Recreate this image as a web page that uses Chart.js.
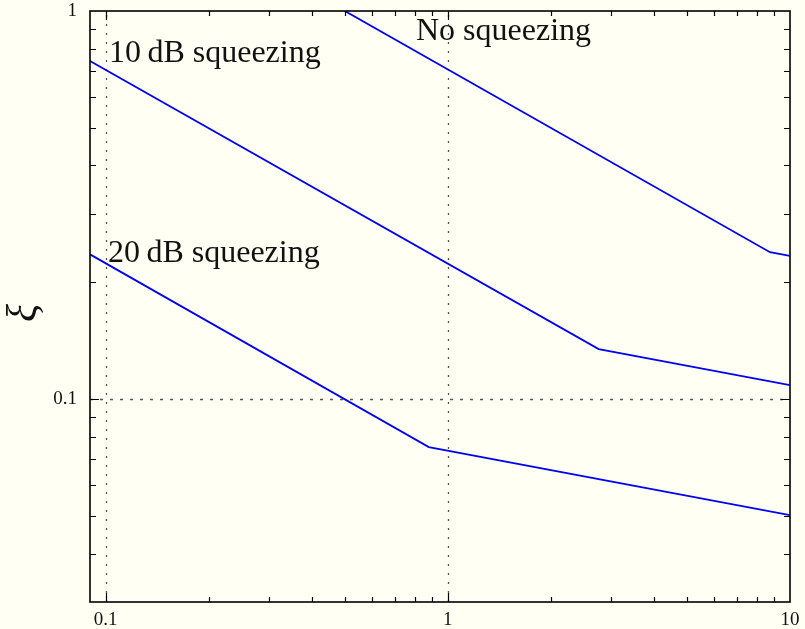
<!DOCTYPE html>
<html><head><meta charset="utf-8">
<script src="https://cdn.jsdelivr.net/npm/chart.js@4"></script>
<style>html,body{margin:0;padding:0;background:#fffff4;}canvas{display:block;}</style>
</head><body>
<canvas id="c" width="805" height="629"></canvas>
<script>
// ---- data ----
const xNoSqueeze = [0.5, 8.74, 10];
const yNoSqueeze = [1.0, 0.239, 0.234];
const x10dB = [0.09, 2.76, 10];
const y10dB = [0.743, 0.1345, 0.1086];
const x20dB = [0.09, 0.880, 10];
const y20dB = [0.236, 0.0752, 0.0502];
const seriesLabels = ['No squeezing', '10\u2009dB squeezing', '20\u2009dB squeezing'];
const xTickLabels = [0.1, 1, 10];
const yTickLabels = [0.1, 1];
const xRange = [0.09, 10];
const yRange = [0.03, 1];
const yTitle = '\u03BE';

const toPts = (xs, ys) => xs.map((x, i) => ({x: x, y: ys[i]}));
const SERIF = "'Liberation Serif', 'DejaVu Serif', serif";
const BLUE = '#0000f0';

const isMajor = v => Math.abs(Math.log10(v) - Math.round(Math.log10(v))) < 1e-9;
const logValues = (lo, hi) => {
  const out = [];
  for (let e = Math.floor(Math.log10(lo)); e <= Math.ceil(Math.log10(hi)); e++) {
    for (let m = 1; m <= 9; m++) {
      const v = +(m * Math.pow(10, e)).toPrecision(6);
      if (v > lo * 1.0001 && v < hi * 0.9999) out.push(v);
    }
  }
  return out;
};

const framePlugin = {
  id: 'frame',
  beforeDatasetsDraw(chart) {
    const {ctx, chartArea: a, scales: {x, y}} = chart;
    ctx.save();
    ctx.strokeStyle = '#555';
    ctx.lineWidth = 1.3;
    ctx.setLineDash([2, 7]);
    xTickLabels.forEach(v => {
      const px = Math.round(x.getPixelForValue(v)) + 0.5;
      if (px > a.left + 2 && px < a.right - 2) {
        ctx.beginPath(); ctx.moveTo(px, a.bottom); ctx.lineTo(px, a.top); ctx.stroke();
      }
    });
    ctx.setLineDash([3, 7]);
    yTickLabels.forEach(v => {
      const py = Math.round(y.getPixelForValue(v)) + 0.5;
      if (py > a.top + 2 && py < a.bottom - 2) {
        ctx.beginPath(); ctx.moveTo(a.left, py); ctx.lineTo(a.right, py); ctx.stroke();
      }
    });
    ctx.restore();
  },
  afterDatasetsDraw(chart) {
    const {ctx, chartArea: a, scales: {x, y}} = chart;
    ctx.save();
    ctx.strokeStyle = '#000';
    ctx.lineWidth = 1.2;
    logValues(xRange[0], xRange[1]).forEach(v => {
      const px = Math.round(x.getPixelForValue(v)) + 0.5;
      const len = isMajor(v) ? 9 : 5;
      ctx.beginPath();
      ctx.moveTo(px, a.bottom); ctx.lineTo(px, a.bottom - len);
      ctx.moveTo(px, a.top); ctx.lineTo(px, a.top + len);
      ctx.stroke();
    });
    logValues(yRange[0], yRange[1]).forEach(v => {
      const py = Math.round(y.getPixelForValue(v)) + 0.5;
      const len = isMajor(v) ? 9 : 6;
      ctx.beginPath();
      ctx.moveTo(a.left, py); ctx.lineTo(a.left + len, py);
      ctx.moveTo(a.right, py); ctx.lineTo(a.right - len, py);
      ctx.stroke();
    });
    ctx.lineWidth = 1.6;
    ctx.strokeRect(a.left, a.top, a.right - a.left, a.bottom - a.top);

    // series annotations
    ctx.fillStyle = '#111';
    ctx.font = '32px ' + SERIF;
    ctx.textBaseline = 'alphabetic';
    ctx.textAlign = 'left';
    ctx.fillText(seriesLabels[0], 416, 40);
    ctx.fillText(seriesLabels[1], 109, 62);
    ctx.fillText(seriesLabels[2], 108, 262);

    // y axis title
    ctx.save();
    ctx.translate(36, 313);
    ctx.rotate(-Math.PI / 2);
    ctx.font = 'italic 42px ' + SERIF;
    ctx.textAlign = 'center';
    ctx.fillText(yTitle, 0, 0);
    ctx.restore();
    ctx.restore();
  }
};

const lineDs = (label, xs, ys) => ({
  label, data: toPts(xs, ys), showLine: true, borderColor: BLUE, backgroundColor: BLUE,
  borderWidth: 1.8, pointRadius: 0, tension: 0, fill: false
});

new Chart(document.getElementById('c'), {
  type: 'scatter',
  data: {
    datasets: [
      lineDs(seriesLabels[0], xNoSqueeze, yNoSqueeze),
      lineDs(seriesLabels[1], x10dB, y10dB),
      lineDs(seriesLabels[2], x20dB, y20dB)
    ]
  },
  options: {
    responsive: false,
    animation: false,
    devicePixelRatio: 1,
    layout: {padding: {top: 11, right: 15, left: 0, bottom: 0}},
    plugins: {legend: {display: false}, tooltip: {enabled: false}},
    scales: {
      x: {
        type: 'logarithmic', min: xRange[0], max: xRange[1],
        grid: {display: false, drawTicks: false},
        border: {display: false},
        afterFit: s => { s.height = 27; s.paddingLeft = 0; s.paddingRight = 0; },
        ticks: {
          autoSkip: false, maxRotation: 0, padding: 7, color: '#111',
          font: {family: SERIF, size: 19},
          callback: v => xTickLabels.some(t => Math.abs(t - v) < 1e-9 * t) ? String(v) : ''
        }
      },
      y: {
        type: 'logarithmic', min: yRange[0], max: yRange[1],
        grid: {display: false, drawTicks: false},
        border: {display: false},
        afterFit: s => { s.width = 90; s.paddingTop = 0; s.paddingBottom = 0; },
        ticks: {
          autoSkip: false, padding: 13, color: '#111',
          font: {family: SERIF, size: 19},
          callback: v => yTickLabels.some(t => Math.abs(t - v) < 1e-9 * t) ? String(v) : ''
        }
      }
    }
  },
  plugins: [framePlugin]
});
</script>
</body></html>
